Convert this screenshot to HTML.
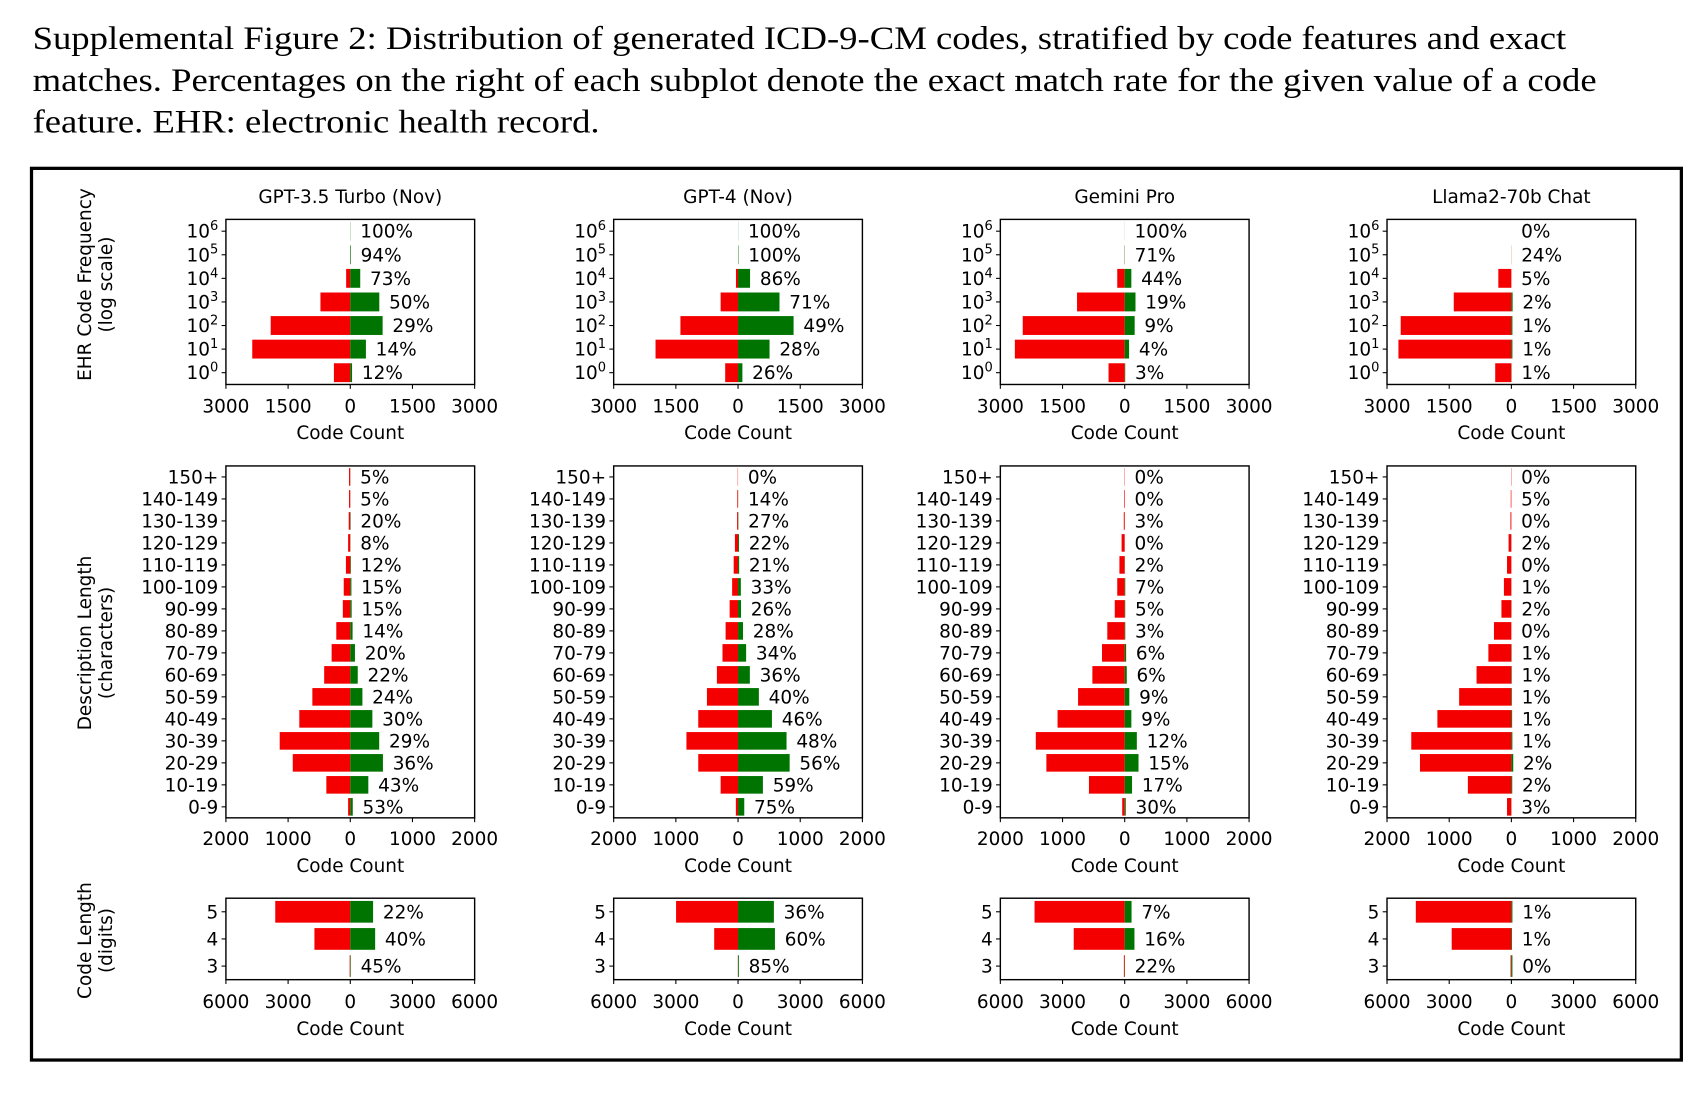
<!DOCTYPE html>
<html><head><meta charset="utf-8"><style>
html,body{margin:0;padding:0;background:#fff;}
svg{display:block;}
text{font-family:"DejaVu Sans","Liberation Sans",sans-serif;fill:#000;}
.cap{font-family:"Liberation Serif",serif;font-size:30px;}
</style></head><body>
<svg id="fig" width="1702" height="1110" viewBox="0 0 1567 1022" preserveAspectRatio="none" xmlns="http://www.w3.org/2000/svg">
<text class="cap" x="30" y="45" textLength="1412" lengthAdjust="spacingAndGlyphs">Supplemental Figure 2: Distribution of generated ICD-9-CM codes, stratified by code features and exact</text>
<text class="cap" x="30" y="84" textLength="1440" lengthAdjust="spacingAndGlyphs">matches. Percentages on the right of each subplot denote the exact match rate for the given value of a code</text>
<text class="cap" x="30" y="122" textLength="522" lengthAdjust="spacingAndGlyphs">feature. EHR: electronic health record.</text>
<rect x="29" y="155" width="1519" height="821" fill="none" stroke="#000" stroke-width="3"/>
<g id="plots"></g>
</svg>
<script>
// ---- categories ----
const freqCats = ["0","1","2","3","4","5","6"];
const lenCats = ["0-9","10-19","20-29","30-39","40-49","50-59","60-69","70-79","80-89","90-99","100-109","110-119","120-129","130-139","140-149","150+"];
const digitCats = ["3","4","5"];
const models = ["GPT-3.5 Turbo (Nov)","GPT-4 (Nov)","Gemini Pro","Llama2-70b Chat"];
const freqTicks = ["3000","1500","0","1500","3000"];
const lenTicks = ["2000","1000","0","1000","2000"];
const digitTicks = ["6000","3000","0","3000","6000"];

// ---- GPT-3.5 ----
const gpt35FreqWrong = [395,2365,1920,720,100,1,0];
const gpt35FreqRight = [43,377,780,700,240,15,5];
const gpt35FreqPct = ["12%","14%","29%","50%","73%","94%","100%"];
const gpt35LenWrong = [35,385,925,1135,820,610,420,300,225,120,105,70,35,25,20,20];
const gpt35LenRight = [40,290,525,465,355,195,120,75,37,22,18,10,3,6,1,1];
const gpt35LenPct = ["53%","43%","36%","29%","30%","24%","22%","20%","14%","15%","15%","12%","8%","20%","5%","5%"];
const gpt35DigWrong = [30,1730,3620];
const gpt35DigRight = [25,1200,1100];
const gpt35DigPct = ["45%","40%","22%"];
// ---- GPT-4 ----
const gpt4FreqWrong = [310,1990,1390,420,50,0,0];
const gpt4FreqRight = [105,760,1340,1000,290,10,3];
const gpt4FreqPct = ["26%","28%","49%","71%","86%","100%","100%"];
const gpt4LenWrong = [35,280,640,830,640,500,340,250,200,135,95,70,50,15,12,5];
const gpt4LenRight = [100,400,830,780,545,335,190,130,80,48,45,18,15,5,2,0];
const gpt4LenPct = ["75%","59%","56%","48%","46%","40%","36%","34%","28%","26%","33%","21%","22%","27%","14%","0%"];
const gpt4DigWrong = [10,1150,2990];
const gpt4DigRight = [40,1780,1730];
const gpt4DigPct = ["85%","60%","36%"];
// ---- Gemini ----
const gemFreqWrong = [390,2650,2460,1150,180,5,0];
const gemFreqRight = [12,105,240,260,160,5,2];
const gemFreqPct = ["3%","4%","9%","19%","44%","71%","100%"];
const gemLenWrong = [40,575,1260,1430,1080,750,520,365,280,160,120,85,50,15,10,5];
const gemLenRight = [17,118,222,195,107,74,33,23,9,8,9,2,0,1,0,0];
const gemLenPct = ["30%","17%","15%","12%","9%","9%","6%","6%","3%","5%","7%","2%","0%","3%","0%","0%"];
const gemDigWrong = [40,2460,4350];
const gemDigRight = [10,470,330];
const gemDigPct = ["22%","16%","7%"];
// ---- Llama ----
const llamaFreqWrong = [390,2725,2670,1390,315,3,0];
const llamaFreqRight = [5,25,25,30,0,1,0];
const llamaFreqPct = ["1%","1%","1%","2%","5%","24%","0%"];
const llamaLenWrong = [70,700,1470,1610,1190,840,560,370,280,160,120,70,45,15,10,5];
const llamaLenRight = [2,14,30,16,12,8,6,4,0,3,1,0,1,0,0,0];
const llamaLenPct = ["3%","2%","2%","1%","1%","1%","1%","1%","0%","2%","1%","0%","2%","0%","5%","0%"];
const llamaDigWrong = [40,2880,4610];
const llamaDigRight = [50,30,50];
const llamaDigPct = ["0%","1%","1%"];

const wrongSets = [[gpt35FreqWrong,gpt35LenWrong,gpt35DigWrong],[gpt4FreqWrong,gpt4LenWrong,gpt4DigWrong],[gemFreqWrong,gemLenWrong,gemDigWrong],[llamaFreqWrong,llamaLenWrong,llamaDigWrong]];
const rightSets = [[gpt35FreqRight,gpt35LenRight,gpt35DigRight],[gpt4FreqRight,gpt4LenRight,gpt4DigRight],[gemFreqRight,gemLenRight,gemDigRight],[llamaFreqRight,llamaLenRight,llamaDigRight]];
const pctSets = [[gpt35FreqPct,gpt35LenPct,gpt35DigPct],[gpt4FreqPct,gpt4LenPct,gpt4DigPct],[gemFreqPct,gemLenPct,gemDigPct],[llamaFreqPct,llamaLenPct,llamaDigPct]];

const NS = "http://www.w3.org/2000/svg";
const root = document.getElementById('plots');
function mk(tag, attrs, parent){const e=document.createElementNS(NS,tag);for(const k in attrs)e.setAttribute(k,attrs[k]);(parent||root).appendChild(e);return e;}

const colLeft = [208,565,921,1277];
const W = 229;
const rows = [
  {top:202,bottom:354,max:3000,ticks:freqTicks,cats:freqCats,sup:true,tickY:380,labY:404,name:"frequency"},
  {top:429,bottom:753,max:2000,ticks:lenTicks,cats:lenCats,sup:false,tickY:778,labY:803,name:"description-length"},
  {top:827,bottom:902,max:6000,ticks:digitTicks,cats:digitCats,sup:false,tickY:928,labY:953,name:"code-length"}
];
const FS = 17;

models.forEach((m,c)=>{
  const left=colLeft[c], zero=left+W/2;
  const t = mk('text',{x:zero,y:187,'text-anchor':'middle','font-size':FS});
  t.textContent=m;
  
  
  rows.forEach((r,ri)=>{
    const g=mk('g',{});
    
    
    const n=r.cats.length, band=(r.bottom-r.top)/n;
    const xs = v=> v/r.max*(W/2);
    const yc = i=> r.bottom-(i+0.5)*band;
    const wr=wrongSets[c][ri], rt=rightSets[c][ri], pc=pctSets[c][ri];
    for(let i=0;i<n;i++){
      const bh=band*0.8;
      const rw=xs(wr[i]), gw=xs(rt[i]);
      const rb=mk('rect',{x:zero-rw,y:yc(i)-bh/2,width:Math.max(rw,0),height:bh,fill:'#f50000'},g);
      
      
      const gb=mk('rect',{x:zero,y:yc(i)-bh/2,width:Math.max(gw,0),height:bh,fill:'#007400'},g);
      
      
      const pt=mk('text',{x:zero+gw+9,y:yc(i)+6,'font-size':FS},g);
      pt.textContent=pc[i];
      
      
      mk('line',{x1:left-4,x2:left,y1:yc(i),y2:yc(i),stroke:'#000','stroke-width':1},g);
      const yl=mk('text',{x:left-7,y:yc(i)+6,'text-anchor':'end','font-size':FS},g);
      if(r.sup){yl.textContent='10';const s=mk('tspan',{dy:-7,'font-size':12},yl);s.textContent=r.cats[i];}
      else yl.textContent=r.cats[i];
      
      
    }
    const fr=mk('rect',{x:left,y:r.top,width:W,height:r.bottom-r.top,fill:'none',stroke:'#000','stroke-width':1.3},g);
    
    
    r.ticks.forEach((tk,k)=>{
      const x=left+k*W/4;
      mk('line',{x1:x,x2:x,y1:r.bottom,y2:r.bottom+4,stroke:'#000','stroke-width':1},g);
      const tl=mk('text',{x:x,y:r.tickY,'text-anchor':'middle','font-size':FS},g);
      tl.textContent=tk;
      
      
    });
    const xl=mk('text',{x:zero,y:r.labY,'text-anchor':'middle','font-size':FS},g);
    xl.textContent='Code Count';
    
    
  });
});
const ytitles=[["EHR Code Frequency","(log scale)",262],["Description Length","(characters)",592],["Code Length","(digits)",866]];
ytitles.forEach(yt=>{
  [[yt[0],84],[yt[1],103]].forEach(p=>{
    const e=mk('text',{x:0,y:0,'text-anchor':'middle','font-size':FS,transform:`translate(${p[1]},${yt[2]}) rotate(-90)`});
    e.textContent=p[0];
    
    
  });
});
</script>
</body></html>
